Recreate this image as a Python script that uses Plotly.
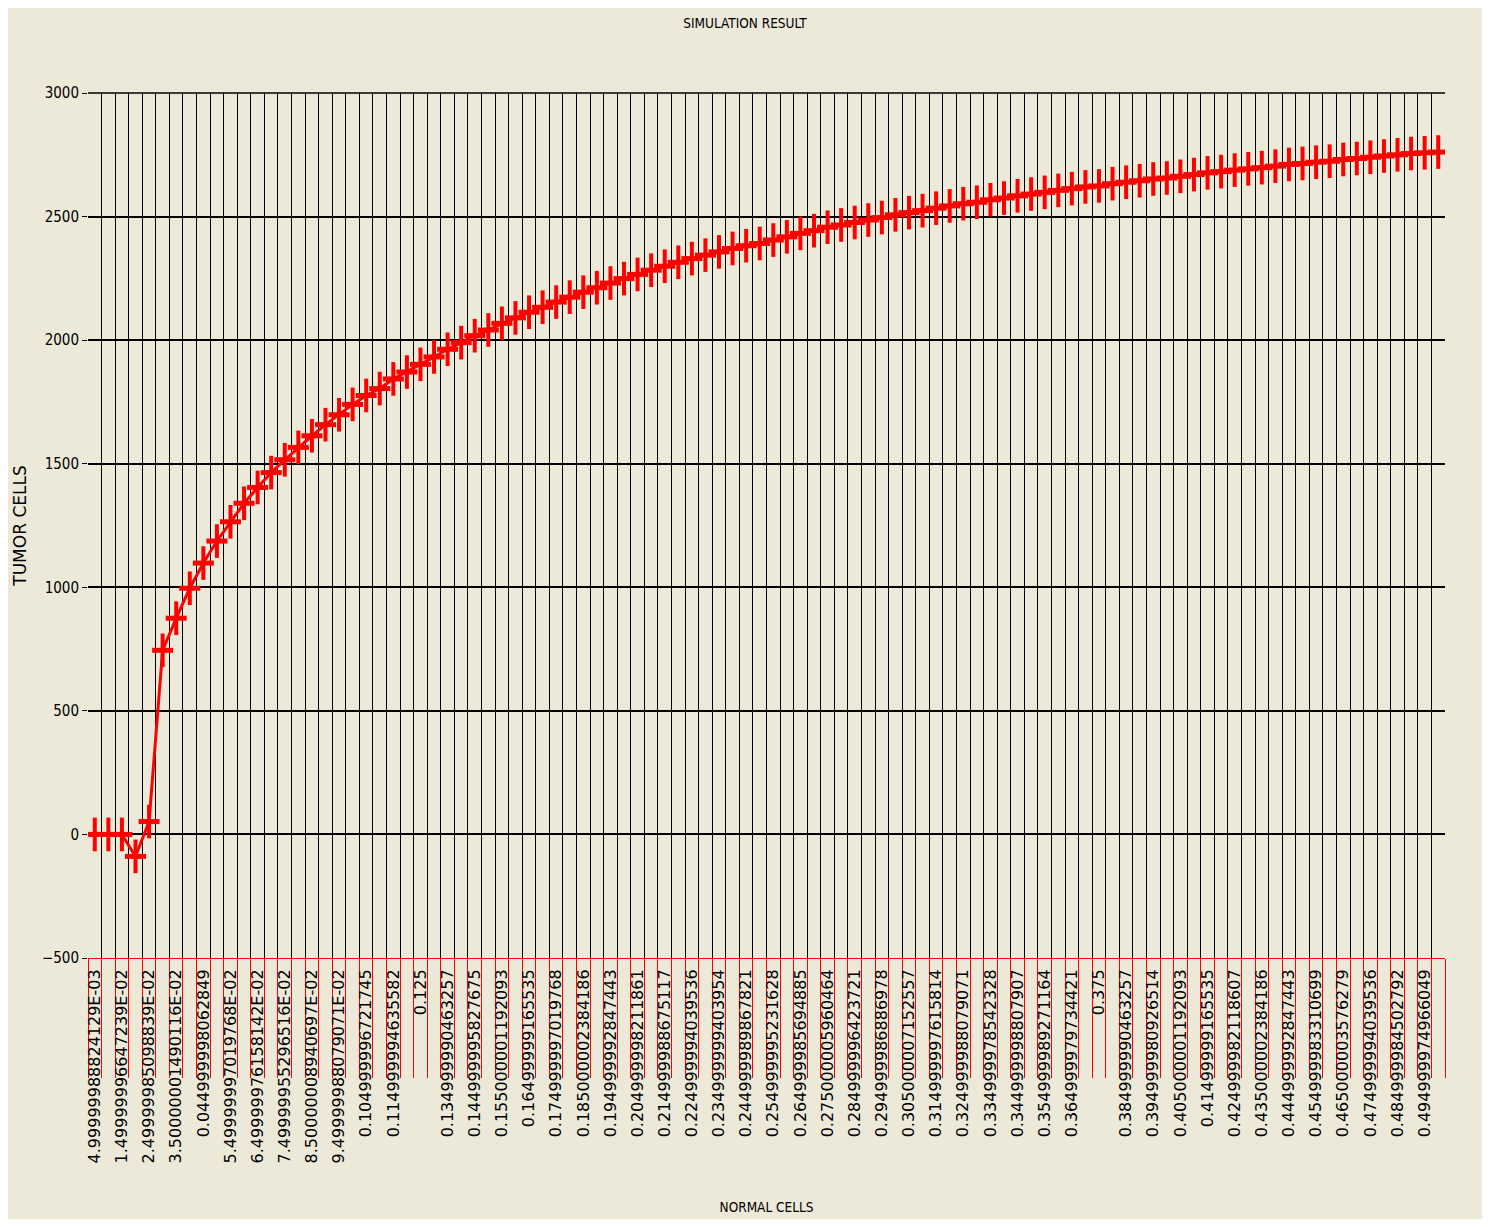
import plotly.graph_objects as go

# Category axis: NORMAL CELLS (100 categories, labels printed on every other one)
normal_cells = [
    "4.99999988824129E-03", "0.01", "1.49999996647239E-02", "0.02",
    "2.49999985098839E-02", "0.03", "3.50000001490116E-02", "0.04",
    "0.044999998062849", "0.05", "5.49999997019768E-02", "0.06",
    "6.49999976158142E-02", "0.07", "7.49999955296516E-02", "0.08",
    "8.50000008940697E-02", "0.09", "9.49999988079071E-02", "0.1",
    "0.104999996721745", "0.11", "0.114999994635582", "0.12",
    "0.125", "0.13", "0.134999990463257", "0.14",
    "0.144999995827675", "0.15", "0.155000001192093", "0.16",
    "0.16499999165535", "0.17", "0.174999997019768", "0.18",
    "0.185000002384186", "0.19", "0.194999992847443", "0.2",
    "0.204999998211861", "0.21", "0.214999988675117", "0.22",
    "0.224999994039536", "0.23", "0.234999999403954", "0.24",
    "0.244999989867821", "0.25", "0.254999995231628", "0.26",
    "0.264999985694885", "0.27", "0.275000005960464", "0.28",
    "0.284999996423721", "0.29", "0.294999986886978", "0.3",
    "0.305000007152557", "0.31", "0.314999997615814", "0.32",
    "0.324999988079071", "0.33", "0.334999978542328", "0.34",
    "0.344999998807907", "0.35", "0.354999989271164", "0.36",
    "0.364999979734421", "0.37", "0.375", "0.38",
    "0.384999990463257", "0.39", "0.394999980926514", "0.4",
    "0.405000001192093", "0.41", "0.41499999165535", "0.42",
    "0.424999982118607", "0.43", "0.435000002384186", "0.44",
    "0.444999992847443", "0.45", "0.454999983310699", "0.46",
    "0.465000003576279", "0.47", "0.474999994039536", "0.48",
    "0.484999984502792", "0.49", "0.494999974966049", "0.5",
]

# Tick labels shown under the axis (every other category)
tick_labels = [c if i % 2 == 0 else "" for i, c in enumerate(normal_cells)]

# TUMOR CELLS values
tumor_cells = [
    0, 0, 0, -89, 52, 745, 875, 996, 1098, 1187,
    1265, 1340, 1404, 1464, 1516, 1566, 1613, 1658, 1698, 1740,
    1776, 1804, 1843, 1871, 1902, 1932, 1963, 1990, 2018, 2041,
    2068, 2090, 2113, 2133, 2154, 2174, 2194, 2212, 2231, 2249,
    2266, 2283, 2299, 2315, 2330, 2344, 2357, 2371, 2382, 2391,
    2405, 2418, 2432, 2443, 2457, 2466, 2476, 2486, 2496, 2507,
    2516, 2524, 2534, 2543, 2552, 2558, 2568, 2575, 2584, 2591,
    2598, 2606, 2613, 2620, 2624, 2633, 2639, 2645, 2652, 2656,
    2663, 2670, 2677, 2682, 2688, 2693, 2698, 2704, 2711, 2715,
    2720, 2724, 2731, 2735, 2740, 2745, 2750, 2755, 2758, 2761,
]

y_range = [-500, 3000]
y_step = 500

BG = "#ECE9D8"
RED = "#FF0000"
NARROW = "Liberation Sans Narrow, DejaVu Sans Condensed, Arial Narrow, sans-serif"
WIDE = "DejaVu Sans, Verdana, sans-serif"

W, H = 1474, 1211

fig = go.Figure()
fig.add_trace(go.Scatter(
    x=normal_cells, y=tumor_cells, mode="lines+markers",
    line=dict(color=RED, width=3),
    marker=dict(symbol="line-ns", size=24, color=RED,
                line=dict(color=RED, width=4)),
    showlegend=False, hoverinfo="x+y",
))
fig.add_trace(go.Scatter(
    x=normal_cells, y=tumor_cells, mode="markers",
    marker=dict(symbol="line-ew", size=15, color=RED,
                line=dict(color=RED, width=5)),
    showlegend=False, hoverinfo="skip",
))

# top frame line of the plot area (the 3000 grid line sits on the edge)
fig.add_shape(type="line", xref="paper", yref="paper",
              x0=0, x1=1, y0=1, y1=1,
              line=dict(color="#000", width=1.5), layer="above")

fig.update_layout(
    width=W, height=H,
    paper_bgcolor=BG, plot_bgcolor=BG,
    margin=dict(l=72, r=37, t=85, b=261),
    title=dict(text="SIMULATION RESULT", x=0.5, xanchor="center",
               y=1 - 15 / H, yanchor="middle",
               font=dict(family=NARROW, size=13.5, color="#000")),
    xaxis=dict(
        type="category", categoryorder="array", categoryarray=normal_cells,
        range=[-0.5, len(normal_cells) - 0.5],
        tickmode="array", tickvals=normal_cells, ticktext=tick_labels,
        tickson="boundaries", ticks="outside", ticklen=119,
        tickcolor=RED, tickwidth=1,
        ticklabelstandoff=4,
        showline=True, linecolor=RED, linewidth=1,
        showgrid=True, gridcolor="#000", gridwidth=1,
        tickangle=-90, automargin=False,
        tickfont=dict(family=WIDE, size=16, color="#000"),
        title=dict(text="NORMAL CELLS", standoff=40,
                   font=dict(family=NARROW, size=13.5, color="#000")),
        fixedrange=True,
    ),
    yaxis=dict(
        range=y_range, dtick=y_step, tick0=0,
        showgrid=True, gridcolor="#000", gridwidth=1.5,
        zeroline=False, showline=False,
        ticks="outside", ticklen=5, tickcolor="#000",
        tickfont=dict(family=NARROW, size=15, color="#000"),
        title=dict(text="TUMOR CELLS", standoff=10,
                   font=dict(family=WIDE, size=17, color="#000")),
    ),
    yaxis2=dict(
        range=y_range, dtick=y_step, tick0=0,
        overlaying="y", side="right", anchor="x",
        showgrid=False, zeroline=False, showline=False,
        ticks="outside", ticklen=5, tickcolor="#000",
        tickfont=dict(family=NARROW, size=15, color="#000"),
    ),
)

fig.write_html("out.html")
